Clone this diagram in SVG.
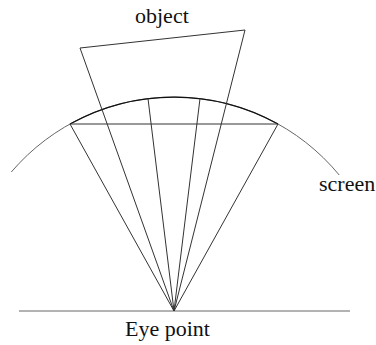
<svg xmlns="http://www.w3.org/2000/svg" width="376" height="345" viewBox="0 0 376 345">
<style>
.ln{stroke:#333;stroke-width:1;fill:none}
.sc{stroke:#666;stroke-width:1;fill:none}
.lb{font-size:22px;fill:#111}
</style>
<rect width="376" height="345" fill="#fff"/>
<g id="screen">
<path class="sc" d="M11.3,172 A214,214 0 0 1 339.2,175"/>
<path d="M70,124 A214,214 0 0 1 278,124" stroke="#111" stroke-width="1.3" fill="none"/>
<text class="lb" font-family="Liberation Serif, DejaVu Serif, serif" x="319" y="191">screen</text>
</g>
<g id="object">
<path class="ln" d="M80,48 L245,30"/>
<text class="lb" font-family="Liberation Serif, DejaVu Serif, serif" x="135" y="23">object</text>
</g>
<g id="eye">
<line class="sc" x1="19" y1="311" x2="350" y2="311"/>
<text class="lb" font-family="Liberation Serif, DejaVu Serif, serif" x="125" y="336">Eye point</text>
</g>
<g id="connectors">
<line class="ln" x1="70" y1="124" x2="278" y2="124"/>
<line class="ln" x1="174" y1="311" x2="70" y2="124"/>
<line class="ln" x1="174" y1="311" x2="80" y2="48"/>
<line class="ln" x1="174" y1="311" x2="148" y2="98.6"/>
<line class="ln" x1="174" y1="311" x2="200" y2="98.6"/>
<line class="ln" x1="174" y1="311" x2="245" y2="30"/>
<line class="ln" x1="174" y1="311" x2="278" y2="124"/>
</g>
</svg>
